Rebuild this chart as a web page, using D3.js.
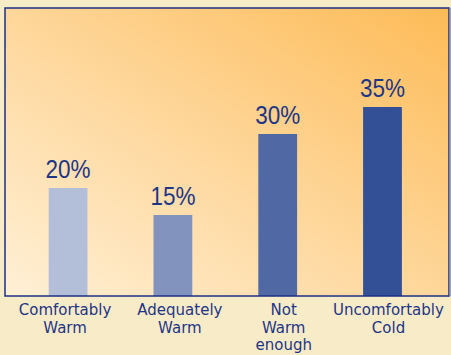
<!DOCTYPE html>
<html>
<head>
<meta charset="utf-8">
<script src="https://cdn.jsdelivr.net/npm/d3@7/dist/d3.min.js"></script>
<style>
html,body{margin:0;padding:0;background:#f8ebc8;}
svg{display:block;}
</style>
</head>
<body>
<svg id="chart" width="451" height="355"></svg>
<script>
const categories = ["Comfortably Warm", "Adequately Warm", "Not Warm enough", "Uncomfortably Cold"];
const labelLines = [["Comfortably", "Warm"], ["Adequately", "Warm"], ["Not", "Warm", "enough"], ["Uncomfortably", "Cold"]];
const values = [20, 15, 30, 35];
const valueLabels = ["20%", "15%", "30%", "35%"];
const barColors = ["#b3bfd8", "#8294bd", "#5068a3", "#334f96"];

const svg = d3.select("#chart");
const W = 451, H = 355;
const box = {left: 5, top: 8, right: 449, bottom: 296};

svg.append("rect").attr("width", W).attr("height", H).attr("fill", "#f8ebc8");

const defs = svg.append("defs");
const grad = defs.append("linearGradient").attr("id", "bg")
  .attr("x1", "0").attr("y1", "1").attr("x2", "1").attr("y2", "0");
grad.append("stop").attr("offset", "0").attr("stop-color", "#fff0d6");
grad.append("stop").attr("offset", "0.45").attr("stop-color", "#fed9a0");
grad.append("stop").attr("offset", "1").attr("stop-color", "#fdbb57");

svg.append("rect")
  .attr("x", box.left).attr("y", box.top)
  .attr("width", box.right - box.left).attr("height", box.bottom - box.top)
  .attr("fill", "url(#bg)");

const x = d3.scaleBand().domain(categories).range([15.7, 434.9])
  .paddingInner(0.63).paddingOuter(0.315);
const y = d3.scaleLinear().domain([0, 35]).range([box.bottom, 107]);

svg.selectAll("rect.bar").data(values).enter().append("rect")
  .attr("class", "bar")
  .attr("x", (d, i) => x(categories[i]))
  .attr("y", d => y(d))
  .attr("width", x.bandwidth())
  .attr("height", d => y(0) - y(d))
  .attr("fill", (d, i) => barColors[i]);

svg.selectAll("text.val").data(values).enter().append("text")
  .attr("class", "val")
  .attr("transform", (d, i) => `translate(${x(categories[i]) + x.bandwidth() / 2},${y(d) - 10}) scale(0.9,1)`)
  .attr("text-anchor", "middle")
  .attr("font-family", "Liberation Sans, Arial, sans-serif")
  .attr("font-size", 25)
  .attr("fill", "#1e3685")
  .text((d, i) => valueLabels[i]);

// frame
svg.append("rect")
  .attr("x", box.left).attr("y", box.top)
  .attr("width", box.right - box.left).attr("height", box.bottom - box.top)
  .attr("fill", "none").attr("stroke", "#1a3185").attr("stroke-width", 1.5);
svg.append("line")
  .attr("x1", box.right + 1).attr("x2", box.right + 1)
  .attr("y1", box.top).attr("y2", box.bottom)
  .attr("stroke", "#8a8fa8").attr("stroke-width", 1.5);

const labelOffsets = [-3, 7, 6, 6];
const lg = svg.selectAll("text.cat").data(categories).enter().append("text")
  .attr("class", "cat")
  .attr("text-anchor", "middle")
  .attr("font-family", "DejaVu Sans, sans-serif")
  .attr("font-size", 15)
  .attr("fill", "#1e3685")
  .attr("x", (d, i) => x(d) + x.bandwidth() / 2 + labelOffsets[i]);
lg.selectAll("tspan").data((d, i) => labelLines[i].map(t => ({t, i}))).enter().append("tspan")
  .attr("x", function() { return d3.select(this.parentNode).attr("x"); })
  .attr("y", (d, j) => 315 + j * 17.5)
  .text(d => d.t);
</script>
</body>
</html>
